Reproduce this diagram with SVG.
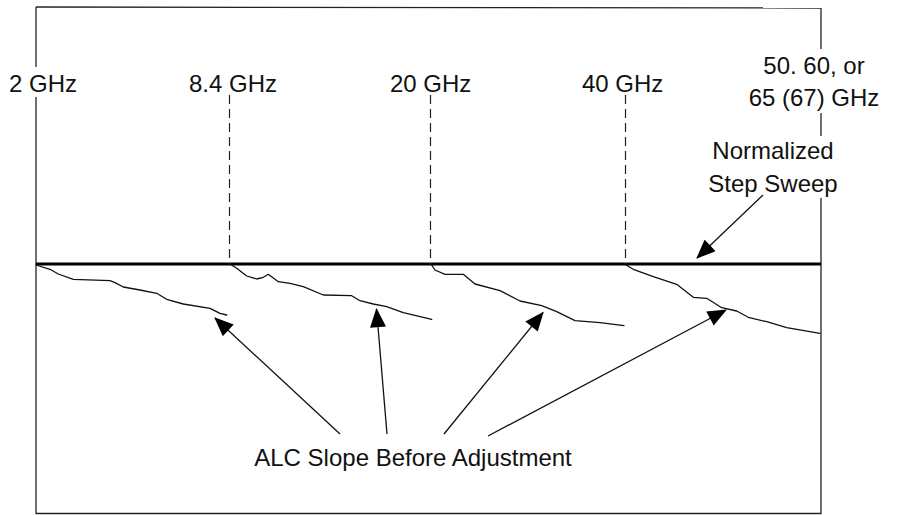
<svg xmlns="http://www.w3.org/2000/svg" width="897" height="515" viewBox="0 0 897 515">
<defs>
<style>
.t{font-family:"Liberation Sans",Arial,sans-serif;font-size:24px;fill:#111}
.frame{stroke:#222;stroke-width:1.3;fill:none}
.dash{stroke:#222;stroke-width:1.2;stroke-dasharray:9 5;fill:none}
.curve{stroke:#111;stroke-width:1.3;fill:none;stroke-linejoin:round;stroke-linecap:round}
.arr{stroke:#111;stroke-width:1.3;fill:none;marker-end:url(#ah)}
</style>
<marker id="ah" markerUnits="userSpaceOnUse" markerWidth="20" markerHeight="16" viewBox="0 0 18 15" refX="17" refY="7.5" orient="auto">
<path d="M0,0 L18,7.5 L0,15 Z" fill="#000"/>
</marker>
</defs>
<g id="frame">
<line class="frame" x1="36" y1="7" x2="821" y2="8"/>
<line class="frame" x1="36" y1="7" x2="36" y2="67"/>
<line class="frame" x1="36" y1="97" x2="36" y2="514"/>
<line class="frame" x1="821" y1="8" x2="821" y2="49"/>
<line class="frame" x1="821" y1="113" x2="821" y2="136"/>
<line class="frame" x1="821" y1="198" x2="821" y2="514"/>
<line class="frame" x1="36" y1="513.5" x2="821" y2="513.5"/>
</g>
<g id="sweep-line">
<line x1="36" y1="264" x2="821" y2="264" stroke="#000" stroke-width="3"/>
</g>
<g id="markers">
<line class="dash" x1="229.5" y1="95" x2="229.5" y2="264"/>
<line class="dash" x1="430.5" y1="95" x2="430.5" y2="264"/>
<line class="dash" x1="625.5" y1="95" x2="625.5" y2="264"/>
</g>
<g id="labels">
<text class="t" x="9" y="92">2 GHz</text>
<text class="t" x="189" y="92">8.4 GHz</text>
<text class="t" x="390" y="92">20 GHz</text>
<text class="t" x="582" y="92">40 GHz</text>
<text class="t" x="814" y="74" text-anchor="middle">50. 60, or</text>
<text class="t" x="814" y="106" text-anchor="middle">65 (67) GHz</text>
<text class="t" x="773" y="159" text-anchor="middle">Normalized</text>
<text class="t" x="773" y="192" text-anchor="middle">Step Sweep</text>
<text class="t" x="413" y="466" text-anchor="middle">ALC Slope Before Adjustment</text>
</g>
<g id="curves">
<polyline class="curve" points="36,265 50,269.3 58.3,274 73.3,279.3 110,280.7 115,282.7 123.3,287 140,290 156.7,293.3 166.7,299.3 183.3,304 210,308.3 220,313.3 226.7,315"/>
<polyline class="curve" points="230,264 236.7,268.3 246.7,276 256.7,279 263.3,277.3 268.3,274.3 278.3,281.7 290,283.3 303.3,286.7 323.3,295 351.7,295.7 360,300.7 373.3,304 386.7,306.7 403.3,312.7 431.7,319.3"/>
<polyline class="curve" points="431,264 435,270 445,274.3 463.3,274.3 475,284 500,290.7 520,301 541.7,305.7 556.7,311.7 575,320.7 600,322.7 624,325.7"/>
<polyline class="curve" points="626,265 633.3,269.3 653.3,276.7 676.7,284.3 693.3,297.3 706.7,298.3 721.7,307.7 736.7,311 748.3,317.3 766.7,321.7 786.7,327.7 820,333.3"/>
</g>
<g id="connectors">
<line class="arr" x1="763" y1="195" x2="697" y2="258"/>
<line class="arr" x1="340" y1="434" x2="215" y2="318"/>
<line class="arr" x1="387" y1="434" x2="376.5" y2="309"/>
<line class="arr" x1="444" y1="434" x2="543" y2="312.5"/>
<line class="arr" x1="488" y1="436" x2="726" y2="310"/>
</g>
</svg>
